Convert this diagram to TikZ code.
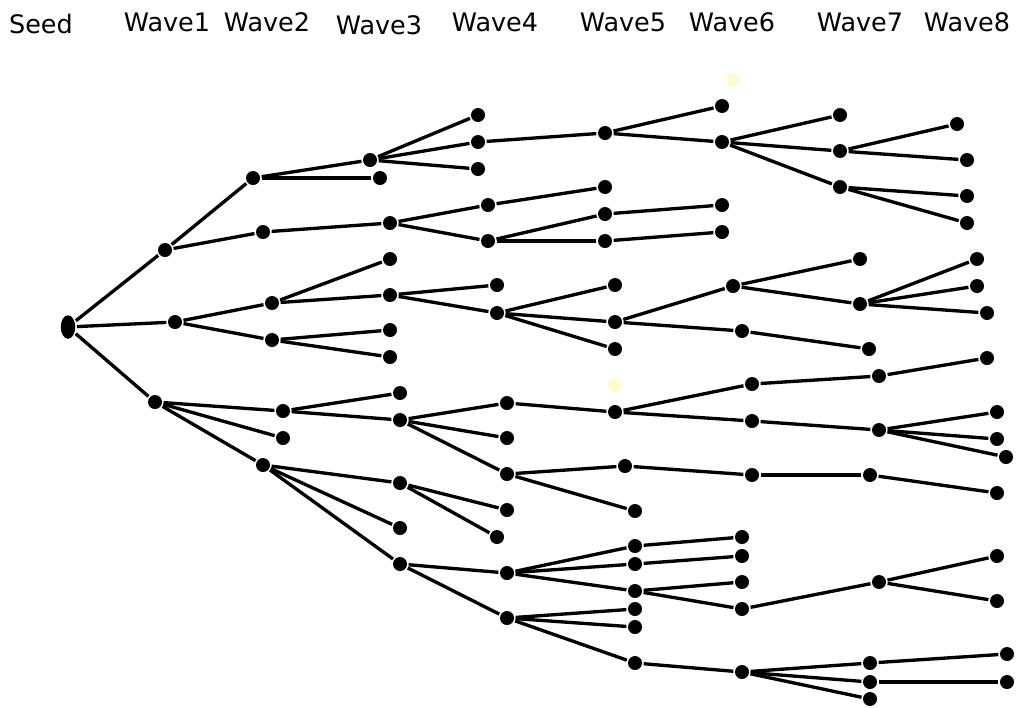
\documentclass[tikz,border=0pt]{standalone}
\usepackage{fontspec}
\setmainfont{DejaVu Sans}
\usepackage{xcolor}
\usetikzlibrary{shapes.geometric}
\definecolor{paleyel}{HTML}{FFFBCF}
\tikzset{wdot/.style={inner sep=0pt, circle, minimum size=0.28cm, fill=black},
         wseed/.style={inner sep=0pt, ellipse, minimum width=0.29cm, minimum height=0.47cm, fill=black},
         wghost/.style={inner sep=0pt, circle, minimum size=0.28cm, fill=paleyel},
         wlbl/.style={anchor=base, inner sep=0pt, font=\fontsize{14.5}{17}\selectfont}}

\begin{document}
\begin{tikzpicture}[x=0.02cm, y=-0.02cm, line width=1.9pt]
\useasboundingbox (0,0) rectangle (1026,707);
\node[wlbl] (lseed) at (41,33) {Seed};
\node[wlbl] (lw1) at (167,31) {Wave1};
\node[wlbl] (lw2) at (267,31) {Wave2};
\node[wlbl] (lw3) at (379,34) {Wave3};
\node[wlbl] (lw4) at (495,31) {Wave4};
\node[wlbl] (lw5) at (623,31) {Wave5};
\node[wlbl] (lw6) at (732,31) {Wave6};
\node[wlbl] (lw7) at (860,31) {Wave7};
\node[wlbl] (lw8) at (967,31) {Wave8};

\node[wghost] (g1) at (733,80) {};
\node[wghost] (g2) at (615,385) {};

\node[wseed] (s) at (68,327) {};

\node[wdot] (w1a) at (165,250) {};
\node[wdot] (w1b) at (175,322) {};
\node[wdot] (w1c) at (155,402) {};

\node[wdot] (w2a) at (253,178) {};
\node[wdot] (w2b) at (263,232) {};
\node[wdot] (w2c) at (272,303) {};
\node[wdot] (w2d) at (272,340) {};
\node[wdot] (w2e) at (283,411) {};
\node[wdot] (w2f) at (283,438) {};
\node[wdot] (w2g) at (263,465) {};

\node[wdot] (w3a) at (370,160) {};
\node[wdot] (w3b) at (380,178) {};
\node[wdot] (w3c) at (390,223) {};
\node[wdot] (w3d) at (390,259) {};
\node[wdot] (w3e) at (390,295) {};
\node[wdot] (w3f) at (390,330) {};
\node[wdot] (w3g) at (390,357) {};
\node[wdot] (w3h) at (400,393) {};
\node[wdot] (w3i) at (400,420) {};
\node[wdot] (w3j) at (400,483) {};
\node[wdot] (w3k) at (400,528) {};
\node[wdot] (w3l) at (400,564) {};

\node[wdot] (w4a) at (478,115) {};
\node[wdot] (w4b) at (478,142) {};
\node[wdot] (w4c) at (478,169) {};
\node[wdot] (w4d) at (488,205) {};
\node[wdot] (w4e) at (488,241) {};
\node[wdot] (w4f) at (497,285) {};
\node[wdot] (w4g) at (497,313) {};
\node[wdot] (w4h) at (507,403) {};
\node[wdot] (w4i) at (507,438) {};
\node[wdot] (w4j) at (507,474) {};
\node[wdot] (w4k) at (507,510) {};
\node[wdot] (w4l) at (497,537) {};
\node[wdot] (w4m) at (507,573) {};
\node[wdot] (w4n) at (507,618) {};

\node[wdot] (w5a) at (605,133) {};
\node[wdot] (w5b) at (605,187) {};
\node[wdot] (w5c) at (605,214) {};
\node[wdot] (w5d) at (605,241) {};
\node[wdot] (w5e) at (615,285) {};
\node[wdot] (w5f) at (615,322) {};
\node[wdot] (w5g) at (615,349) {};
\node[wdot] (w5h) at (615,412) {};
\node[wdot] (w5i) at (625,466) {};
\node[wdot] (w5j) at (635,511) {};
\node[wdot] (w5k) at (635,546) {};
\node[wdot] (w5l) at (635,564) {};
\node[wdot] (w5m) at (635,591) {};
\node[wdot] (w5n) at (635,609) {};
\node[wdot] (w5o) at (635,627) {};
\node[wdot] (w5p) at (635,663) {};

\node[wdot] (w6a) at (722,106) {};
\node[wdot] (w6b) at (722,142) {};
\node[wdot] (w6c) at (722,205) {};
\node[wdot] (w6d) at (722,232) {};
\node[wdot] (w6e) at (733,286) {};
\node[wdot] (w6f) at (742,331) {};
\node[wdot] (w6g) at (752,384) {};
\node[wdot] (w6h) at (752,421) {};
\node[wdot] (w6i) at (752,475) {};
\node[wdot] (w6j) at (742,537) {};
\node[wdot] (w6k) at (742,556) {};
\node[wdot] (w6l) at (742,582) {};
\node[wdot] (w6m) at (742,609) {};
\node[wdot] (w6n) at (742,672) {};

\node[wdot] (w7a) at (840,115) {};
\node[wdot] (w7b) at (840,151) {};
\node[wdot] (w7c) at (840,187) {};
\node[wdot] (w7d) at (860,259) {};
\node[wdot] (w7e) at (860,304) {};
\node[wdot] (w7f) at (869,349) {};
\node[wdot] (w7g) at (879,376) {};
\node[wdot] (w7h) at (879,430) {};
\node[wdot] (w7i) at (870,475) {};
\node[wdot] (w7j) at (879,582) {};
\node[wdot] (w7k) at (870,663) {};
\node[wdot] (w7l) at (870,682) {};
\node[wdot] (w7m) at (870,699) {};

\node[wdot] (w8a) at (957,124) {};
\node[wdot] (w8b) at (967,160) {};
\node[wdot] (w8c) at (967,196) {};
\node[wdot] (w8d) at (967,223) {};
\node[wdot] (w8e) at (977,259) {};
\node[wdot] (w8f) at (977,286) {};
\node[wdot] (w8g) at (987,313) {};
\node[wdot] (w8h) at (987,358) {};
\node[wdot] (w8i) at (997,412) {};
\node[wdot] (w8j) at (997,439) {};
\node[wdot] (w8k) at (1006,457) {};
\node[wdot] (w8l) at (997,493) {};
\node[wdot] (w8m) at (997,556) {};
\node[wdot] (w8n) at (997,601) {};
\node[wdot] (w8o) at (1007,654) {};
\node[wdot] (w8p) at (1007,682) {};

\draw (s) -- (w1a);
\draw (s) -- (w1b);
\draw (s) -- (w1c);

\draw (w1a) -- (w2a);
\draw (w1a) -- (w2b);
\draw (w1b) -- (w2c);
\draw (w1b) -- (w2d);
\draw (w1c) -- (w2e);
\draw (w1c) -- (w2f);
\draw (w1c) -- (w2g);

\draw (w2a) -- (w3a);
\draw (w2a) -- (w3b);
\draw (w2b) -- (w3c);
\draw (w2c) -- (w3d);
\draw (w2c) -- (w3e);
\draw (w2d) -- (w3f);
\draw (w2d) -- (w3g);
\draw (w2e) -- (w3h);
\draw (w2e) -- (w3i);
\draw (w2g) -- (w3j);
\draw (w2g) -- (w3k);
\draw (w2g) -- (w3l);

\draw (w3a) -- (w4a);
\draw (w3a) -- (w4b);
\draw (w3a) -- (w4c);
\draw (w3c) -- (w4d);
\draw (w3c) -- (w4e);
\draw (w3e) -- (w4f);
\draw (w3e) -- (w4g);
\draw (w3i) -- (w4h);
\draw (w3i) -- (w4i);
\draw (w3i) -- (w4j);
\draw (w3j) -- (w4k);
\draw (w3j) -- (w4l);
\draw (w3l) -- (w4m);
\draw (w3l) -- (w4n);

\draw (w4b) -- (w5a);
\draw (w4d) -- (w5b);
\draw (w4e) -- (w5c);
\draw (w4e) -- (w5d);
\draw (w4g) -- (w5e);
\draw (w4g) -- (w5f);
\draw (w4g) -- (w5g);
\draw (w4h) -- (w5h);
\draw (w4j) -- (w5i);
\draw (w4j) -- (w5j);
\draw (w4m) -- (w5k);
\draw (w4m) -- (w5l);
\draw (w4m) -- (w5m);
\draw (w4n) -- (w5n);
\draw (w4n) -- (w5o);
\draw (w4n) -- (w5p);

\draw (w5a) -- (w6a);
\draw (w5a) -- (w6b);
\draw (w5c) -- (w6c);
\draw (w5d) -- (w6d);
\draw (w5f) -- (w6e);
\draw (w5f) -- (w6f);
\draw (w5h) -- (w6g);
\draw (w5h) -- (w6h);
\draw (w5i) -- (w6i);
\draw (w5k) -- (w6j);
\draw (w5l) -- (w6k);
\draw (w5m) -- (w6l);
\draw (w5m) -- (w6m);
\draw (w5p) -- (w6n);

\draw (w6b) -- (w7a);
\draw (w6b) -- (w7b);
\draw (w6b) -- (w7c);
\draw (w6e) -- (w7d);
\draw (w6e) -- (w7e);
\draw (w6f) -- (w7f);
\draw (w6g) -- (w7g);
\draw (w6h) -- (w7h);
\draw (w6i) -- (w7i);
\draw (w6m) -- (w7j);
\draw (w6n) -- (w7k);
\draw (w6n) -- (w7l);
\draw (w6n) -- (w7m);

\draw (w7b) -- (w8a);
\draw (w7b) -- (w8b);
\draw (w7c) -- (w8c);
\draw (w7c) -- (w8d);
\draw (w7e) -- (w8e);
\draw (w7e) -- (w8f);
\draw (w7e) -- (w8g);
\draw (w7g) -- (w8h);
\draw (w7h) -- (w8i);
\draw (w7h) -- (w8j);
\draw (w7h) -- (w8k);
\draw (w7i) -- (w8l);
\draw (w7j) -- (w8m);
\draw (w7j) -- (w8n);
\draw (w7k) -- (w8o);
\draw (w7l) -- (w8p);
\end{tikzpicture}
\end{document}
